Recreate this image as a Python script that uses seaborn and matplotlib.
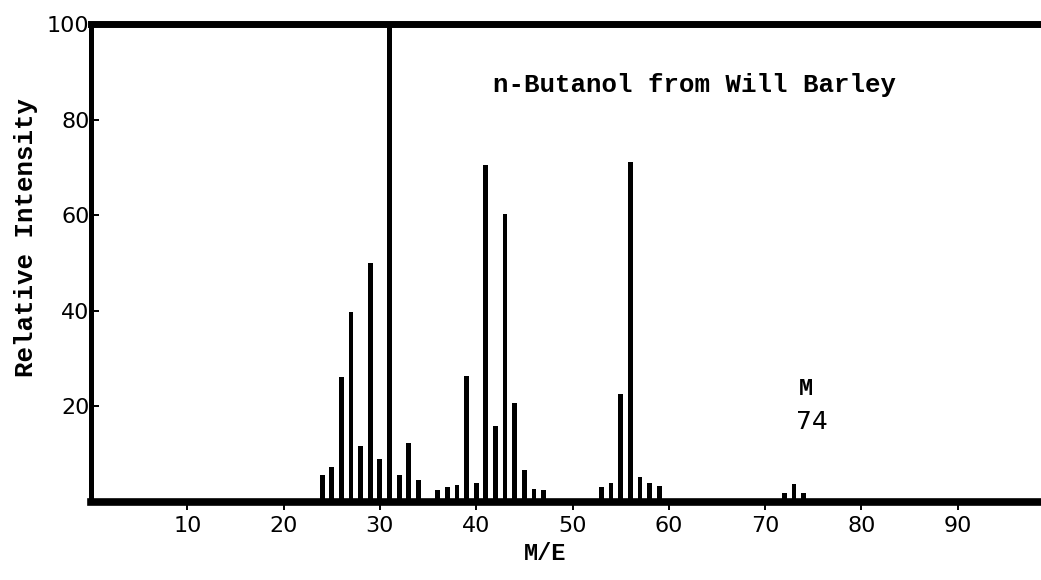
import matplotlib
matplotlib.use("Agg")
import matplotlib.pyplot as plt
import seaborn as sns
import pandas as pd

# Mass spectrum of n-butanol: mass-to-charge ratio and relative intensity
mass_to_charge = [24, 25, 26, 27, 28, 29, 30, 31, 32, 33, 34, 36, 37, 38, 39, 40,
                  41, 42, 43, 44, 45, 46, 47, 53, 54, 55, 56, 57, 58, 59, 72, 73, 74]
relative_intensity = [5.6, 7.4, 26.2, 39.7, 11.8, 50.0, 9.1, 100.0, 5.6, 12.3, 4.5,
                      2.5, 3.2, 3.6, 26.4, 4.0, 70.5, 15.8, 60.3, 20.8, 6.7, 2.7, 2.5,
                      3.2, 4.0, 22.5, 71.2, 5.3, 4.0, 3.4, 1.9, 3.7, 1.8]

x_ticks = [10, 20, 30, 40, 50, 60, 70, 80, 90]
y_ticks = [20, 40, 60, 80, 100]

title_text = "n-Butanol from Will Barley"
parent_label = "M"
parent_mass = "74"

df = pd.DataFrame({"m/e": mass_to_charge, "intensity": relative_intensity})

sns.set_theme(style="white")
typewriter = ["Liberation Mono", "DejaVu Sans Mono"]
lettering = ["DejaVu Sans"]
plt.rcParams["font.family"] = lettering
plt.rcParams["text.color"] = "black"
plt.rcParams["axes.labelcolor"] = "black"
plt.rcParams["xtick.color"] = "black"
plt.rcParams["ytick.color"] = "black"

fig = plt.figure(figsize=(10.41, 5.80), dpi=100)
ax = fig.add_axes([91 / 1041, 78 / 580, 950 / 1041, 478 / 580])
ax.set_facecolor("white")

sns.barplot(data=df, x="m/e", y="intensity", native_scale=True, width=0.5,
            color="black", saturation=1, linewidth=0, errorbar=None, ax=ax)

ax.set_xlim(0, 98.65)
ax.set_ylim(0, 100)

# Frame: heavy top, left and bottom rules, open on the right
for side in ("top", "left", "bottom"):
    ax.spines[side].set_visible(True)
    ax.spines[side].set_color("black")
ax.spines["right"].set_visible(False)
ax.spines["top"].set_linewidth(5.0)
ax.spines["left"].set_linewidth(3.6)
ax.spines["bottom"].set_linewidth(5.5)

ax.set_xticks(x_ticks)
ax.set_xticklabels([str(v) for v in x_ticks])
ax.set_yticks(y_ticks)
ax.set_yticklabels([str(v) for v in y_ticks])

ax.tick_params(axis="x", direction="out", length=6, width=1.4, pad=4,
               labelsize=16, colors="black", bottom=True)
ax.tick_params(axis="y", direction="in", length=6, width=1.4, pad=1,
               labelsize=16, colors="black", left=True)
for lbl in ax.get_xticklabels() + ax.get_yticklabels():
    lbl.set_family(lettering)

ax.set_xlabel("M/E", fontsize=17, fontweight="bold", family=typewriter, color="black")
ax.xaxis.set_label_coords(0.478, -0.107)
ax.xaxis.label.set_va("center")

ax.set_ylabel("Relative Intensity", fontsize=18.5, fontweight="bold",
              family=typewriter, color="black")
ax.yaxis.set_label_coords(-0.068, 0.554)
ax.yaxis.label.set_va("center")

ax.text(41.7, 87.2, title_text, fontsize=18.5, fontweight="bold",
        family=typewriter, ha="left", va="center", color="black")
ax.text(74.2, 23.8, parent_label, fontsize=17, fontweight="bold",
        family=typewriter, ha="center", va="center", color="black")
ax.text(74.9, 16.7, parent_mass, fontsize=18, family=lettering,
        ha="center", va="center", color="black")

fig.savefig("out.png", dpi=100, facecolor="white")
